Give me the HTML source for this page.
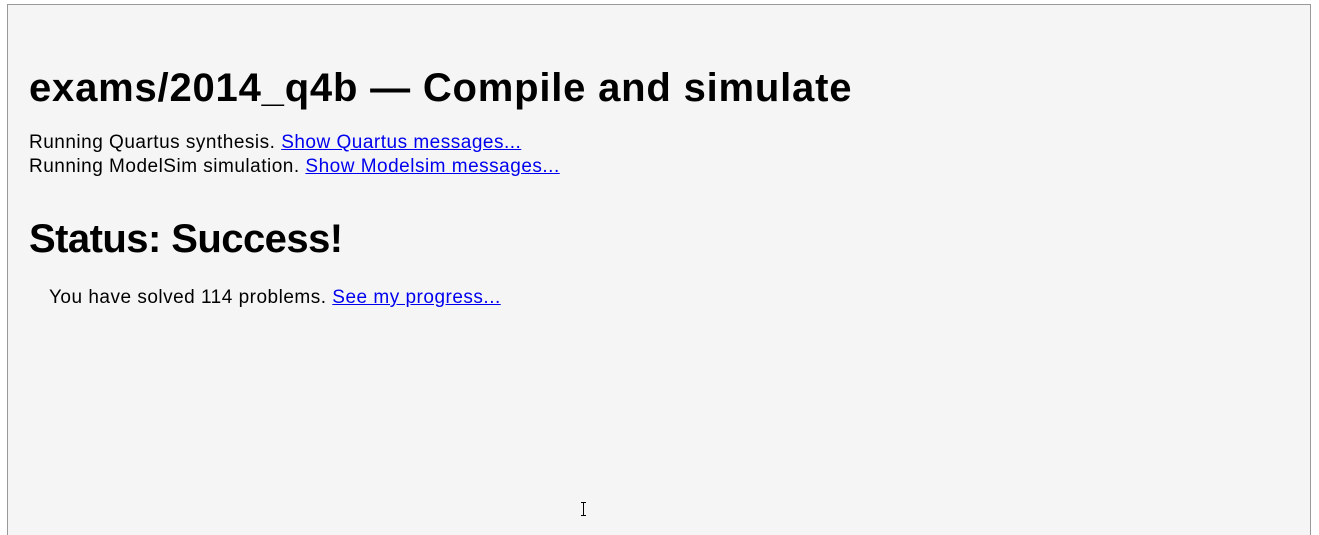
<!DOCTYPE html>
<html><head><meta charset="utf-8"><style>
html,body{margin:0;padding:0;background:#fff;width:1319px;height:524px;overflow:hidden}
.box{position:absolute;left:7px;top:4px;width:1302px;height:530px;border:1px solid #999;border-bottom:none;background:#f5f5f5}
.t{position:absolute;white-space:nowrap;font-family:"Liberation Sans",sans-serif;color:#000}
a{color:#00e;text-decoration:underline}
.s{font-size:19px;letter-spacing:0.5px}
</style></head><body>
<div class="box"></div>
<div class="t" style="left:29px;top:66px;font-size:40px;font-weight:bold;letter-spacing:0.8px">exams/2014_q4b — Compile and simulate</div>
<div class="t s" style="left:29px;top:132px">Running Quartus synthesis. <a>Show Quartus messages...</a></div>
<div class="t s" style="left:29px;top:156px">Running ModelSim simulation. <a>Show Modelsim messages...</a></div>
<div class="t" style="left:29px;top:217px;font-size:40px;font-weight:bold;letter-spacing:-0.55px">Status: Success!</div>
<div class="t s" style="left:49px;top:287px">You have solved 114 problems. <a>See my progress...</a></div>
<div style="position:absolute;left:583px;top:502px;width:1px;height:14px;background:#000"></div>
<div style="position:absolute;left:581px;top:502px;width:5px;height:1px;background:#000"></div>
<div style="position:absolute;left:581px;top:515px;width:5px;height:1px;background:#000"></div>
</body></html>
